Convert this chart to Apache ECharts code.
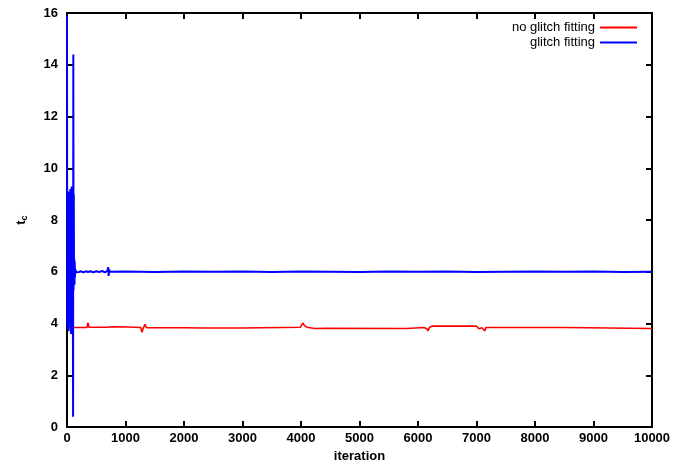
<!DOCTYPE html>
<html>
<head>
<meta charset="utf-8">
<script src="https://cdn.jsdelivr.net/npm/echarts@6/dist/echarts.min.js"></script>
<style>
html,body{margin:0;padding:0;background:#fff;}
#c{width:688px;height:468px;}
</style>
</head>
<body>
<div id="c"></div>
<script>
// ---- data ----
var seriesNames = ['no glitch fitting', 'glitch fitting'];
var xTicks = [0,1000,2000,3000,4000,5000,6000,7000,8000,9000,10000];
var yTicks = [0,2,4,6,8,10,12,14,16];

var redIter = [0,340,359,375,700,764,1040,1260,1282,1300,1333,1360,2000,2340,3000,3003,3990,4030,4060,4100,4238,4400,5806,5810,6100,6150,6170,6200,6238,7000,7040,7090,7144,7160,8511,8520,10000];
var redVal  = [3.85,3.85,4.03,3.86,3.86,3.88,3.87,3.85,3.66,3.80,3.97,3.84,3.84,3.83,3.83,3.86,3.86,4.02,3.92,3.86,3.81,3.82,3.81,3.85,3.85,3.80,3.72,3.86,3.90,3.90,3.80,3.84,3.72,3.85,3.85,3.81,3.81];

var blueIter = [0,4,8,12,16,20,24,28,32,36,40,44,48,52,56,60,64,68,72,76,80,84,88,92,96,100,104,108,112,116,120,124,128,132,136,140,160,180,200,240,280,320,360,400,450,500,550,600,650,690,705,712,720,740,1000,1500,2000,2500,3000,3500,4000,4500,5000,5500,6000,6500,7000,7500,8000,8500,9000,9500,10000];
var blueVal  = [15.9,4.0,9.0,3.8,8.5,4.2,9.1,3.7,8.8,4.5,9.0,3.9,8.2,4.1,9.2,5.0,8.0,3.6,8.9,4.4,9.3,5.2,8.6,3.9,9.0,5.5,0.4,14.4,5.3,9.0,5.6,6.5,5.5,6.4,5.8,6.1,5.98,6.03,5.99,6.02,5.98,6.02,5.99,6.02,5.98,6.02,5.99,6.03,5.98,6.04,6.18,5.84,6.08,6.0,6.01,5.99,6.01,6.0,6.01,5.99,6.01,6.0,5.99,6.01,6.0,6.01,5.99,6.0,6.01,6.0,6.01,5.99,6.0];

function pairs(xs, ys){ var o=[]; for(var i=0;i<xs.length;i++) o.push([xs[i], ys[i]]); return o; }

var chart = echarts.init(document.getElementById('c'), null, {renderer:'canvas'});
var font = 'Liberation Sans, Arial, Helvetica, sans-serif';
var axisLine = {show:true, onZero:false, lineStyle:{color:'#000', width:2}};
var tick = {show:true, inside:true, length:6, lineStyle:{color:'#000', width:2}};
var legendText = {fontFamily:font, fontSize:13, color:'#000'};

chart.setOption({
  animation:false,
  backgroundColor:'#fff',
  grid:{left:67, right:36, top:13, bottom:38, containLabel:false},
  legend:[
    {data:[seriesNames[0]], right:51, top:21, padding:0, orient:'vertical', align:'right', icon:'rect', itemWidth:37, itemHeight:2, textStyle:legendText},
    {data:[seriesNames[1]], right:51, top:36, padding:0, orient:'vertical', align:'right', icon:'rect', itemWidth:37, itemHeight:2, textStyle:legendText}
  ],
  xAxis:[
    {type:'value', position:'bottom', min:xTicks[0], max:xTicks[xTicks.length-1], interval:xTicks[1]-xTicks[0],
     name:'iteration', nameLocation:'middle', nameGap:22,
     nameTextStyle:{fontFamily:font, fontSize:13, fontWeight:'bold', color:'#000'},
     axisLine:axisLine, axisTick:tick, splitLine:{show:false},
     axisLabel:{fontFamily:font, fontSize:13, fontWeight:'bold', color:'#000', margin:5, formatter:function(v){return String(v);}}},
    {type:'value', position:'top', min:xTicks[0], max:xTicks[xTicks.length-1], interval:xTicks[1]-xTicks[0],
     axisLine:axisLine, axisTick:tick, splitLine:{show:false}, axisLabel:{show:false}}
  ],
  yAxis:[
    {type:'value', position:'left', min:yTicks[0], max:yTicks[yTicks.length-1], interval:yTicks[1]-yTicks[0],
     name:'{t|t}{s|c}', nameLocation:'middle', nameGap:38, nameRotate:90,
     nameTextStyle:{rich:{t:{fontFamily:font, fontSize:13, fontWeight:'bold', color:'#000'}, s:{fontFamily:font, fontSize:9, fontWeight:'bold', color:'#000', verticalAlign:'bottom', padding:[6,0,0,0]}}},
     axisLine:axisLine, axisTick:tick, splitLine:{show:false},
     axisLabel:{fontFamily:font, fontSize:13, fontWeight:'bold', color:'#000', margin:9, formatter:function(v){return String(v);}}},
    {type:'value', position:'right', min:yTicks[0], max:yTicks[yTicks.length-1], interval:yTicks[1]-yTicks[0],
     axisLine:axisLine, axisTick:tick, splitLine:{show:false}, axisLabel:{show:false}}
  ],
  series:[
    {name:seriesNames[0], type:'line', xAxisIndex:0, yAxisIndex:0, data:pairs(redIter, redVal), showSymbol:false, symbol:'none',
     lineStyle:{color:'#ff0000', width:1.6}, itemStyle:{color:'#ff0000'}, clip:true, z:2},
    {name:seriesNames[1], type:'line', xAxisIndex:0, yAxisIndex:0, data:pairs(blueIter, blueVal), showSymbol:false, symbol:'none',
     lineStyle:{color:'#0000ff', width:2}, itemStyle:{color:'#0000ff'}, clip:true, z:3}
  ]
});
</script>
</body>
</html>
